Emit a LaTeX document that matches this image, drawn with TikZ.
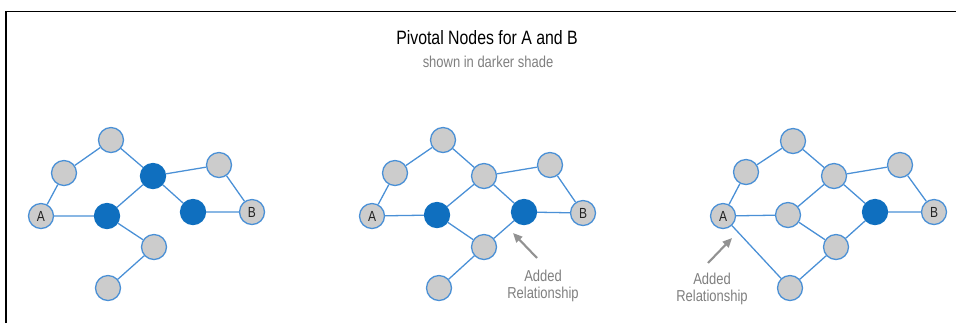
\documentclass[tikz,border=0pt]{standalone}
\usepackage{fontspec}
\setmainfont{Liberation Sans}[FakeStretch=0.82]
\usepackage{xcolor}
\usepackage{tikz}
\usetikzlibrary{arrows.meta}
\definecolor{pvblue}{HTML}{0F6FBF}
\definecolor{pvedge}{HTML}{4A90D6}
\definecolor{pvgrey}{HTML}{CCCCCC}
\definecolor{pvnote}{HTML}{7F7F7F}
\definecolor{pvtext}{HTML}{222222}

\begin{document}
\begin{tikzpicture}[
  x=0.03cm, y=-0.03cm,
  plain/.style={
    circle, draw=pvedge, fill=pvgrey, line width=1.1pt,
    minimum size=0.75cm, inner sep=0pt,
    font=\fontsize{12.5}{12.5}\selectfont\color{pvtext}
  },
  pivot/.style={plain, fill=pvblue, draw=pvblue},
  link/.style={draw=pvedge, line width=1.1pt},
  note/.style={font=\fontsize{13.5}{15}\selectfont, text=pvnote, align=center},
  pointer/.style={-{Triangle[length=8pt, width=7pt]}, line width=1.8pt, color=pvnote!85},
]
\useasboundingbox (0,0) rectangle (956,323);

% frame and heading
\draw[line width=1.5pt] (6,323) -- (6,11.5) -- (956,11.5);
\node[font=\fontsize{16.5}{17}\selectfont, text=black] (title) at (487,38) {Pivotal Nodes for A and B};
\node[font=\fontsize{13.5}{14}\selectfont, text=pvnote] (subtitle) at (488,62) {shown in darker shade};

% first graph
\node[plain] (a1) at (41,216) {A};
\node[plain] (ul1) at (64,173) {};
\node[plain] (t1) at (111,140) {};
\node[pivot] (p1) at (107,216) {};
\node[pivot] (q1) at (153,176) {};
\node[pivot] (r1) at (193,212) {};
\node[plain] (ur1) at (219,165) {};
\node[plain] (b1) at (252,212) {B};
\node[plain] (lo1) at (154,247) {};
\node[plain] (bo1) at (108,288) {};

\draw[link] (a1) -- (ul1) -- (t1) -- (q1) -- (ur1) -- (b1);
\draw[link] (a1) -- (p1) -- (q1) -- (r1) -- (b1);
\draw[link] (p1) -- (lo1) -- (bo1);

% second graph
\node[plain] (a2) at (372,216) {A};
\node[plain] (ul2) at (395,173) {};
\node[plain] (t2) at (443,140) {};
\node[pivot] (p2) at (437,215) {};
\node[plain] (q2) at (484,176) {};
\node[pivot] (r2) at (524,212) {};
\node[plain] (ur2) at (550,165) {};
\node[plain] (b2) at (583,213) {B};
\node[plain] (lo2) at (484,247) {};
\node[plain] (bo2) at (439,288) {};

\draw[link] (a2) -- (ul2) -- (t2) -- (q2) -- (ur2) -- (b2);
\draw[link] (a2) -- (p2) -- (q2) -- (r2) -- (b2);
\draw[link] (p2) -- (lo2) -- (bo2);
\draw[link] (lo2) -- (r2);

\node[note] (added2) at (543,286) {Added\\Relationship};
\coordinate (tip2) at (513,233);
\draw[pointer] (537,258) -- (tip2);

% third graph
\node[plain] (a3) at (723,216) {A};
\node[plain] (ul3) at (746,172) {};
\node[plain] (t3) at (793,141) {};
\node[plain] (p3) at (788,215) {};
\node[plain] (q3) at (834,176) {};
\node[pivot] (r3) at (875,212) {};
\node[plain] (ur3) at (900,165) {};
\node[plain] (b3) at (934,212) {B};
\node[plain] (lo3) at (836,247) {};
\node[plain] (bo3) at (790,288) {};

\draw[link] (a3) -- (ul3) -- (t3) -- (q3) -- (ur3) -- (b3);
\draw[link] (a3) -- (p3) -- (q3) -- (r3) -- (b3);
\draw[link] (p3) -- (lo3) -- (r3);
\draw[link] (a3) -- (bo3) -- (lo3);

\node[note] (added3) at (712,289) {Added\\Relationship};
\coordinate (tip3) at (732,238);
\draw[pointer] (708,263) -- (tip3);

\end{tikzpicture}
\end{document}
